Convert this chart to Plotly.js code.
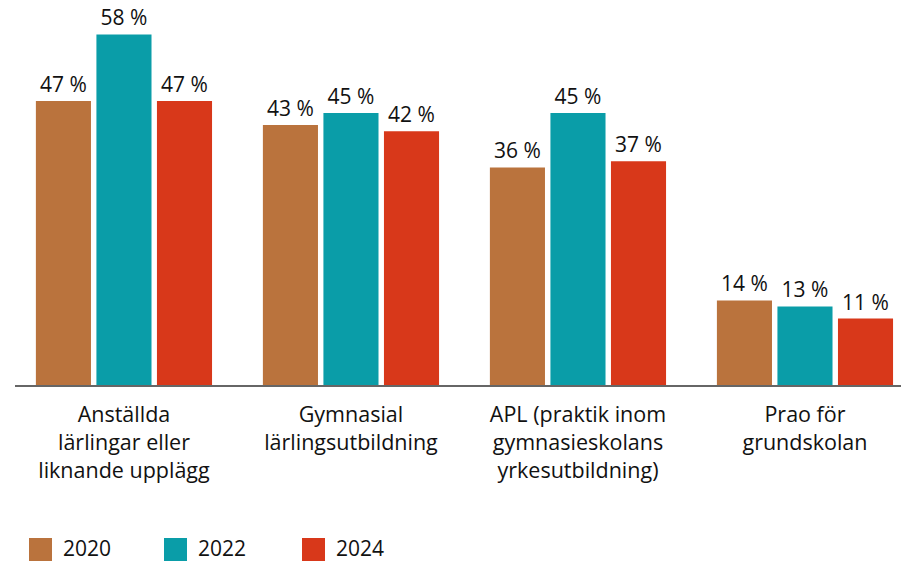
<!DOCTYPE html>
<html>
<head>
<meta charset="utf-8">
<script src="https://cdn.plot.ly/plotly-3.0.1.min.js"></script>
<style>html,body{margin:0;padding:0;background:#fff;}#chart{width:901px;height:562px;}</style>
</head>
<body>
<div id="chart"></div>
<script>
const categories = [
  "Anställda<br>lärlingar eller<br>liknande upplägg",
  "Gymnasial<br>lärlingsutbildning",
  "APL (praktik inom<br>gymnasieskolans<br>yrkesutbildning)",
  "Prao för<br>grundskolan"
];
const seriesNames = ["2020", "2022", "2024"];
const values2020 = [47, 43, 36, 14];
const values2022 = [58, 45, 45, 13];
const values2024 = [47, 42, 37, 11];
const colors = ["#BA733D", "#0A9DA8", "#D8381A"];

const FONT = "'Open Sans', 'Noto Sans', sans-serif";
const TXT = "#111111";
const allValues = [values2020, values2022, values2024];

const traces = allValues.map((vals, i) => ({
  type: "bar",
  name: seriesNames[i],
  x: categories,
  y: vals,
  text: vals.map(v => v + " %"),
  textposition: "outside",
  constraintext: "none",
  cliponaxis: false,
  textfont: {family: FONT, size: 21, color: TXT},
  marker: {color: colors[i]},
  showlegend: false,
  hoverinfo: "skip"
}));

// custom legend (large squares)
const legendX = [14, 149, 287];   // px offsets from plot left
const shapes = [];
const annotations = [];
seriesNames.forEach((n, i) => {
  shapes.push({
    type: "rect", xref: "paper", yref: "paper",
    xsizemode: "pixel", ysizemode: "pixel",
    xanchor: 0, yanchor: 0,
    x0: legendX[i], x1: legendX[i] + 23,
    y0: -153, y1: -176,
    fillcolor: colors[i], line: {width: 0}
  });
  annotations.push({
    xref: "paper", yref: "paper", x: 0, y: 0,
    xanchor: "left", yanchor: "middle",
    xshift: legendX[i] + 32, yshift: -163,
    text: n, showarrow: false,
    font: {family: FONT, size: 21, color: TXT}
  });
});

const layout = {
  width: 901, height: 562,
  margin: {l: 15, r: 0, t: 0, b: 177, pad: 0},
  paper_bgcolor: "#fff", plot_bgcolor: "#fff",
  barmode: "group",
  bargap: 0.2,
  bargroupgap: 0.09,
  showlegend: false,
  font: {family: FONT, size: 21, color: TXT},
  xaxis: {
    type: "category",
    range: [-0.48, 3.423],
    showline: true, linecolor: "#666", linewidth: 1.5,
    ticks: "", showgrid: false, zeroline: false,
    tickfont: {family: FONT, size: 21.5, color: TXT},
    ticklabelstandoff: 10
  },
  yaxis: {
    range: [0, 63.7],
    visible: false, showgrid: false, zeroline: false
  },
  shapes: shapes,
  annotations: annotations
};

Plotly.newPlot("chart", traces, layout, {displayModeBar: false, staticPlot: true});
</script>
</body>
</html>
